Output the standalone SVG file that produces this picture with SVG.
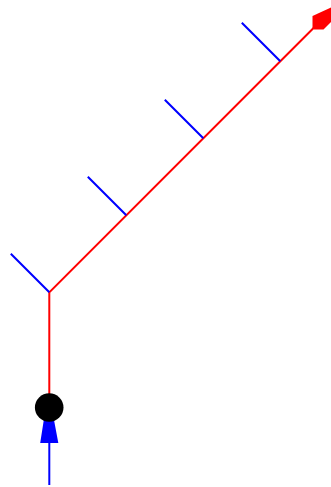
<svg xmlns="http://www.w3.org/2000/svg" width="331" height="487" viewBox="0 0 331 487">
<style>
.r{stroke:#f00;stroke-width:2;fill:none}
.b{stroke:#00f;stroke-width:2;fill:none}
</style>
<rect width="331" height="487" fill="#fff"/>
<g id="connectors">
<path class="r" d="M49.300 400V292.300L316.300 25.300"/>
<path class="b" d="M49.300 292.300L10.800 253.800M126.300 215.300L87.800 176.800M203.300 138.300L164.800 99.800M280.300 61.300L241.800 22.800"/>
<path class="b" d="M49.300 485V440"/>
</g>
<g id="arrow-blue"><polygon points="43.800,420 54,420 58.300,443 40.200,443" fill="#00f"/></g>
<g id="arrow-red"><polygon points="312.500,16 332,7 332,21 323.500,29.500 314,29.500 312.500,28" fill="#f00"/></g>
<g id="dot"><circle cx="49.200" cy="407.500" r="14.300" fill="#000"/></g>
</svg>
